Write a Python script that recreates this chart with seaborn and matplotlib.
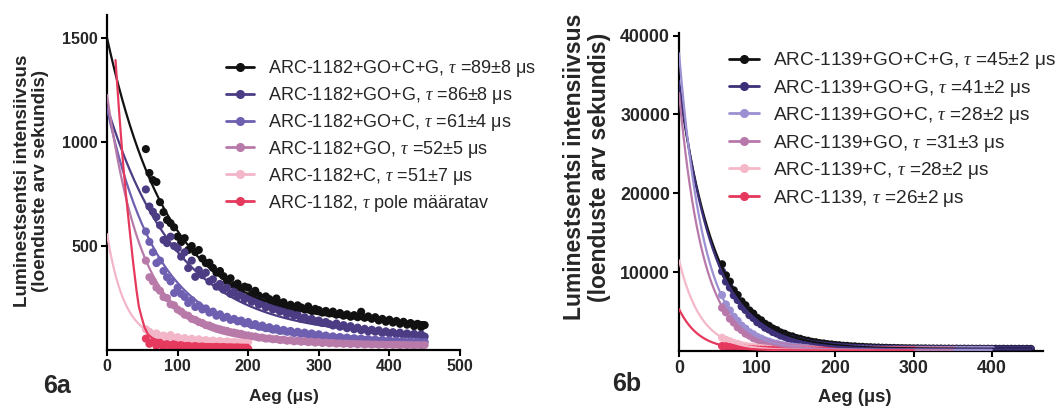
import numpy as np
import pandas as pd
import matplotlib
matplotlib.use("Agg")
import matplotlib.pyplot as plt
from matplotlib.lines import Line2D
import seaborn as sns

# ---------------- data: panel 6a (ARC-1182) ----------------
t_a = np.arange(55, 455, 5)   # measurement times, µs

names_a = ["ARC-1182+GO+C+G", "ARC-1182+GO+G", "ARC-1182+GO+C",
           "ARC-1182+GO", "ARC-1182+C", "ARC-1182"]
tau_a = ["$\\tau$ =89±8 μs", "$\\tau$ =86±8 μs", "$\\tau$ =61±4 μs",
         "$\\tau$ =52±5 μs", "$\\tau$ =51±7 μs", "$\\tau$ pole määratav"]
colors_a = ["#111111", "#4b3c84", "#6e5fb0", "#b87aa9", "#f3b6c8", "#e5395d"]

a_gocg = [966, 851, 817, 808, 711, 663, 625, 610, 590, 545, 519, 538, 481, 500, 471, 481,
          440, 418, 420, 395, 372, 380, 355, 330, 345, 312, 320, 296, 305, 300, 268, 285,
          262, 250, 258, 245, 232, 248, 225, 230, 212, 218, 200, 215, 205, 196, 210, 188,
          198, 192, 180, 188, 176, 185, 170, 178, 165, 172, 160, 168, 158, 184, 155, 162,
          150, 158, 142, 150, 136, 146, 132, 140, 126, 136, 122, 130, 115, 126, 110, 120]
a_gog = [772, 690, 665, 640, 600, 529, 514, 545, 500, 490, 449, 470, 394, 430, 352, 385,
         360, 372, 330, 340, 305, 318, 290, 300, 270, 282, 258, 265, 245, 255, 232, 240,
         218, 228, 205, 212, 195, 200, 185, 192, 172, 180, 165, 170, 150, 158, 145, 150,
         138, 142, 130, 135, 125, 118, 128, 112, 120, 105, 115, 100, 108, 95, 102, 90,
         98, 88, 95, 82, 90, 80, 86, 75, 84, 72, 80, 70, 78, 68, 75, 65]
a_goc = [570, 520, 470, 418, 430, 380, 350, 330, 274, 300, 270, 255, 226, 240, 207, 215,
         195, 200, 180, 185, 165, 172, 155, 160, 145, 150, 138, 142, 128, 135, 120, 125,
         112, 118, 105, 110, 98, 104, 92, 97, 88, 92, 82, 88, 78, 84, 74, 80,
         70, 76, 64, 70, 60, 66, 58, 63, 55, 60, 52, 57, 50, 55, 48, 53,
         46, 50, 44, 48, 42, 47, 40, 45, 38, 43, 37, 42, 36, 40, 35, 39]
a_go = [430, 350, 330, 300, 285, 255, 250, 220, 215, 195, 185, 170, 165, 150, 145, 135,
        130, 120, 118, 110, 104, 100, 95, 92, 86, 84, 80, 78, 72, 70, 66, 65,
        60, 60, 55, 56, 52, 53, 48, 50, 45, 47, 42, 45, 40, 43, 38, 41,
        36, 40, 34, 38, 33, 36, 31, 35, 30, 34, 29, 33, 28, 32, 27, 31,
        27, 30, 26, 29, 25, 28, 25, 27, 24, 27, 24, 26, 23, 26, 23, 25]
a_c = [100, 88, 75, 80, 66, 70, 60, 72, 55, 62, 52, 58, 48, 55, 45, 52,
       44, 48, 42, 46, 40, 44, 38, 42, 37, 40, 36, 39, 35, 38]
a_arc = [55, 30, 40, 20, 35, 15, 28, 18, 30, 12, 25, 15, 22, 10, 20, 12,
         18, 8, 15, 10, 16, 8, 14, 10, 12, 6, 12, 8, 10, 6]
series_a = [a_gocg, a_gog, a_goc, a_go, a_c, a_arc]

# fitted decays: start value, decay constant, plateau
fit_y0_a = [1500, 1170, 1160, 1226, 557]
fit_tau_a = [89, 100, 72, 50, 25]
fit_base_a = [125, 65, 45, 35, 40]
# ARC-1182 alone: curve (no fit possible)
red_curve_t = [12, 17, 22.7, 27, 32, 37, 41.7, 45, 48.8, 53, 58, 65, 80, 120, 200]
red_curve_y = [1394, 1150, 897, 740, 577, 420, 288, 210, 160, 110, 75, 55, 40, 30, 25]

# ---------------- data: panel 6b (ARC-1139) ----------------
t_b = np.arange(55, 455, 5)

names_b = ["ARC-1139+GO+C+G", "ARC-1139+GO+G", "ARC-1139+GO+C",
           "ARC-1139+GO", "ARC-1139+C", "ARC-1139"]
tau_b = ["$\\tau$ =45±2 μs", "$\\tau$ =41±2 μs", "$\\tau$ =28±2 μs",
         "$\\tau$ =31±3 μs", "$\\tau$ =28±2 μs", "$\\tau$ =26±2 μs"]
colors_b = ["#111111", "#3d3079", "#9c8fd2", "#b978aa", "#f5b8c9", "#e6375c"]

b_gocg = [11000, 9600, 8800, 7700, 7100, 6300, 5800, 5150, 4750, 4200, 3900, 3450, 3200, 2850,
          2650, 2350, 2200, 1950, 1850, 1650, 1550, 1380, 1300, 1170, 1110, 1000, 960, 870,
          830, 760, 730, 670, 650, 600, 590, 540, 530, 490, 480, 450, 440, 420, 410, 390,
          385, 370, 365, 350, 350, 335, 340, 325, 330, 315, 320, 310, 315, 300, 310, 295,
          305, 290, 300, 290, 295, 285, 295, 280, 290, 280, 288, 278, 286, 276, 284, 275,
          282, 274, 280, 272]
b_gog = [10100, 8800, 8050, 7050, 6450, 5650, 5200, 4550, 4180, 3650, 3360, 2950, 2720, 2400,
         2210, 1950, 1800, 1590, 1480, 1300, 1220, 1080, 1000, 900, 840, 760, 710, 640,
         610, 550, 520, 480, 460, 420, 410, 380, 370, 340, 335, 310, 305, 290, 285, 270,
         270, 255, 258, 245, 248, 238, 240, 232, 236, 226, 230, 222, 226, 218, 222, 215,
         220, 212, 218, 210, 215, 208, 214, 206, 212, 205, 210, 204, 209, 203, 208, 202,
         207, 201, 206, 200]
b_goc = [7090, 5900, 5150, 4350, 3820, 3220, 2840, 2390, 2120, 1790, 1590, 1350, 1200, 1020,
         930, 790, 720, 620, 570, 500, 460, 400, 380, 330, 320, 290, 280, 250,
         250, 220, 225, 200, 205, 185, 192, 175, 182, 168, 175, 162, 170, 158, 166, 155,
         163, 152, 160, 150, 158, 148, 156, 147, 155, 146, 154, 145, 153, 145, 152, 144,
         151, 144, 150, 143, 150, 143, 149, 142, 149, 142]
b_go = [5480, 4900, 4100, 3600, 3000, 2650, 2200, 1950, 1620, 1440, 1220, 1080, 920, 820,
        700, 630, 540, 490, 430, 390, 350, 320, 290, 270, 245, 232, 215, 205,
        190, 185, 172, 170, 160, 160, 150, 152, 143, 146, 138, 141, 134, 137, 131, 134,
        128, 132, 126, 130, 125, 128, 124, 127, 123, 126, 122, 125, 121, 124, 120, 123]
b_c = [1680, 1420, 1240, 1030, 900, 740, 660, 550, 500, 420, 380, 320, 300, 260,
       245, 215, 205, 185, 178, 160, 158, 145, 142, 132, 132, 122, 124, 115,
       118, 110, 114, 106, 110, 104, 108, 102, 106, 100, 104, 100]
b_arc = [630, 600, 500, 440, 360, 330, 280, 250, 215, 195, 170, 160, 140, 135,
         120, 118, 108, 106, 98, 98, 92, 93, 88, 90, 85, 88, 83, 86,
         82, 85, 81, 84, 80, 83, 80, 82, 79, 82, 79, 81, 78, 81, 78, 80,
         78, 80, 77, 80, 77, 79]
series_b = [b_gocg, b_gog, b_goc, b_go, b_c, b_arc]

fit_y0_b = [33500, 34200, 37750, 32700, 11500, 5300]
fit_tau_b = [47, 44, 32, 31, 28, 26]
fit_base_b = [280, 200, 145, 122, 100, 80]

# ---------------- style ----------------
sns.set_theme(style="ticks")
plt.rcParams["font.family"] = ["Liberation Sans", "DejaVu Sans"]
plt.rcParams["mathtext.fontset"] = "custom"
plt.rcParams["mathtext.it"] = "Liberation Serif:italic"
plt.rcParams["mathtext.rm"] = "Liberation Sans"


def long_points(t, names, series):
    rows = []
    for name, vals in zip(names, series):
        for x, y in zip(t[:len(vals)], vals):
            rows.append((name, x, y))
    return pd.DataFrame(rows, columns=["seeria", "aeg", "int"])


def fit_curves(t, names, series, y0s, taus, bases):
    rows = []
    for name, vals, y0, tau, base in zip(names, series, y0s, taus, bases):
        tt = np.linspace(0, t[len(vals) - 1], 250)
        yy = base + (y0 - base) * np.exp(-tt / tau)
        rows += [(name, x, y) for x, y in zip(tt, yy)]
    return pd.DataFrame(rows, columns=["seeria", "aeg", "int"])


def draw_panel(ax, pts, fits, names, colors, tick_fs, lab_fs, xlab_fs, ylab_xy, xlab_xy):
    pal = dict(zip(names, colors))
    sns.scatterplot(data=pts, x="aeg", y="int", hue="seeria", hue_order=names,
                    palette=pal, s=34, linewidth=0, legend=False, ax=ax, zorder=2)
    sns.lineplot(data=fits, x="aeg", y="int", hue="seeria", hue_order=names,
                 palette=pal, estimator=None, sort=False, lw=1.6, legend=False,
                 ax=ax, zorder=3)
    sns.despine(ax=ax)
    for s in ["left", "bottom"]:
        ax.spines[s].set_linewidth(1.6)
        ax.spines[s].set_color("black")
    ax.tick_params(axis="both", direction="out", length=4.5, width=1.5,
                   color="black", labelsize=tick_fs, pad=2)
    for lab in ax.get_xticklabels() + ax.get_yticklabels():
        lab.set_fontweight("bold")
    ax.set_xlabel("Aeg (μs)", fontsize=xlab_fs, fontweight="bold")
    ax.set_ylabel("Luminestsentsi intensiivsus\n(loenduste arv sekundis)",
                  fontsize=lab_fs, fontweight="bold", linespacing=1.1)
    ax.yaxis.set_label_coords(*ylab_xy)
    ax.xaxis.set_label_coords(*xlab_xy)


def add_legend(ax, names, taus, colors, anchor, fig, fs, spacing):
    handles = [Line2D([0], [0], color=c, lw=2, marker="o", markersize=5.5)
               for c in colors]
    labels = [f"{n}, {t}" for n, t in zip(names, taus)]
    ax.legend(handles, labels, loc="upper left", bbox_to_anchor=anchor,
              bbox_transform=fig.transFigure, frameon=False, fontsize=fs,
              handlelength=1.55, handletextpad=0.75, labelspacing=spacing,
              borderaxespad=0, borderpad=0)


fig = plt.figure(figsize=(10.63, 4.08), dpi=100)
ax_a = fig.add_axes([0.1007, 0.142, 0.332, 0.821])
ax_b = fig.add_axes([0.6388, 0.1397, 0.342, 0.779])

# panel 6a
pts_a = long_points(t_a, names_a, series_a)
fits_a = fit_curves(t_a, names_a[:5], series_a[:5], fit_y0_a, fit_tau_a, fit_base_a)
fits_a = pd.concat([fits_a, pd.DataFrame({"seeria": names_a[5], "aeg": red_curve_t,
                                          "int": red_curve_y})], ignore_index=True)
draw_panel(ax_a, pts_a, fits_a, names_a, colors_a, 11.5, 13.6, 12.5,
           (-0.164, 0.504), (0.5, -0.116))
ax_a.set_xlim(0, 500)
ax_a.set_ylim(0, 1610)
ax_a.set_xticks([0, 100, 200, 300, 400, 500])
ax_a.set_yticks([500, 1000, 1500])
add_legend(ax_a, names_a, tau_a, colors_a, (0.213, 0.858), fig, 13, 0.33)

# panel 6b
pts_b = long_points(t_b, names_b, series_b)
fits_b = fit_curves(t_b, names_b, series_b, fit_y0_b, fit_tau_b, fit_base_b)
draw_panel(ax_b, pts_b, fits_b, names_b, colors_b, 12.8, 16.5, 13.2,
           (-0.187, 0.579), (0.484, -0.12))
ax_b.set_xlim(0, 465)
ax_b.set_ylim(0, 40300)
ax_b.set_xticks([0, 100, 200, 300, 400])
ax_b.set_yticks([10000, 20000, 30000, 40000])
add_legend(ax_b, names_b, tau_b, colors_b, (0.686, 0.877), fig, 13.7, 0.34)

fig.text(0.054, 0.055, "6a", fontsize=18, fontweight="bold", ha="center", va="center")
fig.text(0.59, 0.06, "6b", fontsize=18, fontweight="bold", ha="center", va="center")

fig.savefig("out.png", dpi=100, facecolor="white")
